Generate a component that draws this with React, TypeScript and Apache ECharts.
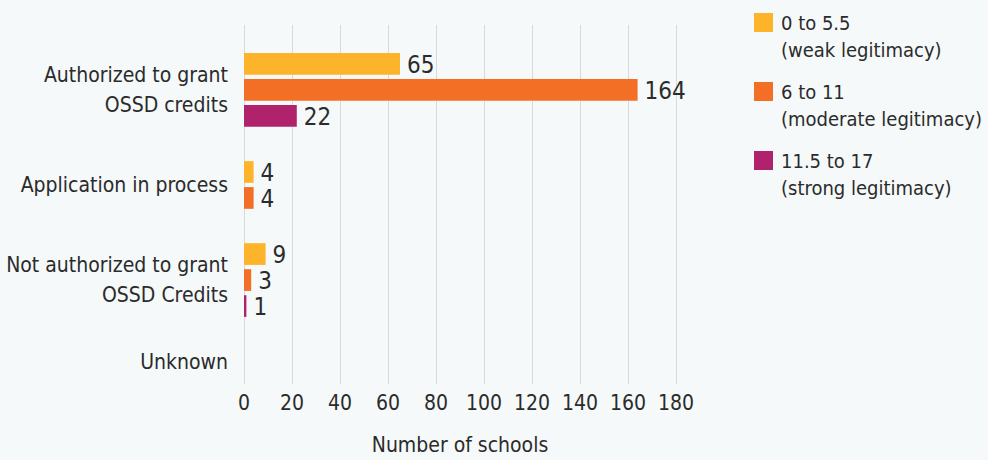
import React, { useEffect, useRef } from "react";
import * as echarts from "echarts";

// ---- data ----
const categories = [
  "Authorized to grant\nOSSD credits",
  "Application in process",
  "Not authorized to grant\nOSSD Credits",
  "Unknown",
];
const seriesNames = [
  "0 to 5.5\n(weak legitimacy)",
  "6 to 11\n(moderate legitimacy)",
  "11.5 to 17\n(strong legitimacy)",
];
const weak: (number | null)[] = [65, 4, 9, null];
const moderate: (number | null)[] = [164, 4, 3, null];
const strong: (number | null)[] = [22, null, 1, null];
const xTicks = { min: 0, max: 180, interval: 20 };
const colors = ["#FDB32A", "#F26F25", "#B1226D"];

// ---- layout (styles) ----
const FONT = "'DejaVu Sans Condensed', 'DejaVu Sans', sans-serif";
const TEXT = "#2b2b2b";
const BAR = 21.7;
const INNER = 4.3;
const GAP = 34.4;
const TOP = 28;
const BOTTOM = 11;

export default function App() {
  const ref = useRef<HTMLDivElement>(null);
  useEffect(() => {
    if (!ref.current) return;
    const chart = echarts.init(ref.current, undefined, { renderer: "svg" });
    const all = [weak, moderate, strong];
    const starts: number[] = [];
    const centers: number[] = [];
    let y = TOP;
    categories.forEach((_, i) => {
      const n = Math.max(all.filter((s) => s[i] != null).length, 1);
      const h = n * BAR + (n - 1) * INNER;
      starts.push(y);
      centers.push(y + h / 2);
      y += h + GAP;
    });
    const total = y - GAP + BOTTOM;

    const series = all.map((vals, s) => {
      const data: any[] = [];
      vals.forEach((v, i) => {
        if (v == null) return;
        let rank = 0;
        for (let k = 0; k < s; k++) if (all[k][i] != null) rank++;
        data.push([v, starts[i] + rank * (BAR + INNER), i]);
      });
      return {
        type: "custom",
        name: seriesNames[s],
        itemStyle: { color: colors[s] },
        encode: { x: 0, y: 1 },
        data,
        renderItem: (params: any, api: any) => {
          const v = api.value(0);
          const y0 = api.value(1);
          const p0 = api.coord([0, y0]);
          const p1 = api.coord([v, y0 + BAR]);
          const top = Math.min(p0[1], p1[1]);
          const hgt = Math.abs(p1[1] - p0[1]);
          return {
            type: "group",
            children: [
              {
                type: "rect",
                shape: { x: p0[0], y: top, width: p1[0] - p0[0], height: hgt },
                style: { fill: api.visual("color") },
              },
              {
                type: "text",
                style: {
                  text: String(v),
                  x: p1[0] + 7,
                  y: top + hgt / 2 + 1,
                  fill: TEXT,
                  fontSize: 24,
                  lineHeight: 24,
                  fontFamily: FONT,
                  verticalAlign: "middle",
                  align: "left",
                },
              },
            ],
          };
        },
      };
    });

    chart.setOption({
      animation: false,
      backgroundColor: "#F5F9F9",
      textStyle: { fontFamily: FONT },
      grid: {
        left: 244,
        top: 25,
        width: 432,
        height: 359,
        containLabel: false,
        outerBoundsMode: "none",
      },
      legend: {
        orient: "vertical",
        left: 754,
        top: 9,
        padding: 0,
        itemWidth: 22,
        itemHeight: 46,
        itemGap: 15,
        icon: "path://M0,0L19,0L19,19L0,19Z M22,46L22,46.01L21.99,46.01Z",
        data: seriesNames,
        textStyle: { fontSize: 20, lineHeight: 27, color: TEXT, fontFamily: FONT },
        selectedMode: false,
      },
      xAxis: {
        type: "value",
        min: xTicks.min,
        max: xTicks.max,
        interval: xTicks.interval,
        axisLine: { show: false },
        axisTick: { show: false },
        splitLine: { lineStyle: { color: "#D9D9DB", width: 1 } },
        axisLabel: { fontSize: 21, color: TEXT, margin: 8, fontFamily: FONT },
        name: "Number of schools",
        nameLocation: "middle",
        nameGap: 50,
        nameTextStyle: { fontSize: 21, color: TEXT, fontFamily: FONT },
      },
      yAxis: {
        type: "value",
        inverse: true,
        min: 0,
        max: total,
        axisLine: { show: false },
        axisTick: { show: false },
        splitLine: { show: false },
        axisLabel: {
          customValues: centers,
          fontSize: 21,
          lineHeight: 30,
          color: TEXT,
          margin: 16,
          fontFamily: FONT,
          formatter: (val: number) => {
            const idx = centers.findIndex((c) => Math.abs(c - val) < 0.5);
            return idx >= 0 ? categories[idx] : "";
          },
        },
      },
      series,
    });
    return () => chart.dispose();
  }, []);
  return (
    <div
      ref={ref}
      style={{ position: "fixed", left: 0, top: 0, width: 988, height: 460, background: "#F5F9F9" }}
    />
  );
}
